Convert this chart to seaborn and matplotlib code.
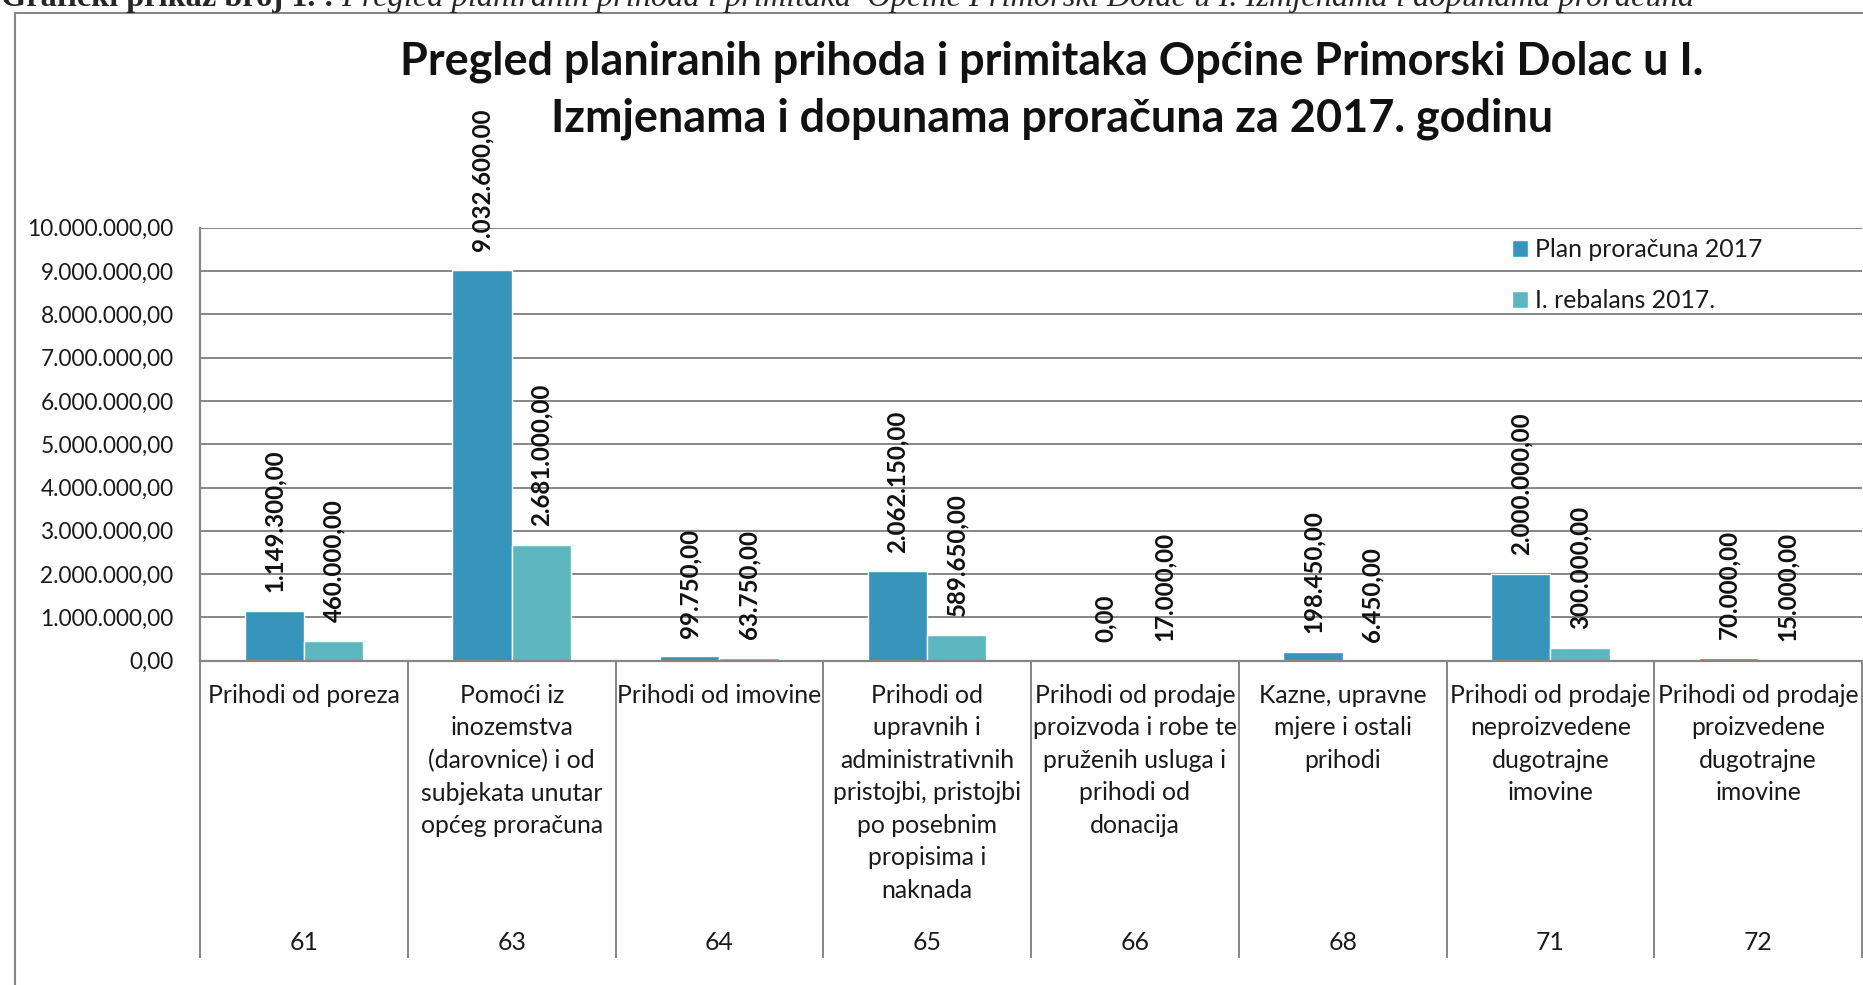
import matplotlib
matplotlib.use("Agg")
import matplotlib.pyplot as plt
import matplotlib.ticker as mticker
import seaborn as sns
import pandas as pd
import numpy as np

# ---------------- data ----------------
codes = ["61", "63", "64", "65", "66", "68", "71", "72"]
names = [
    "Prihodi od poreza",
    "Pomoći iz\ninozemstva\n(darovnice) i od\nsubjekata unutar\nopćeg proračuna",
    "Prihodi od imovine",
    "Prihodi od\nupravnih i\nadministrativnih\npristojbi, pristojbi\npo posebnim\npropisima i\nnaknada",
    "Prihodi od prodaje\nproizvoda i robe te\npruženih usluga i\nprihodi od\ndonacija",
    "Kazne, upravne\nmjere i ostali\nprihodi",
    "Prihodi od prodaje\nneproizvedene\ndugotrajne\nimovine",
    "Prihodi od prodaje\nproizvedene\ndugotrajne\nimovine",
]
plan = [1149300, 9032600, 99750, 2062150, 0, 198450, 2000000, 70000]
rebalans = [460000, 2681000, 63750, 589650, 17000, 6450, 300000, 15000]
series = ["Plan proračuna 2017", "I. rebalans 2017."]
yticks = [0, 1000000, 2000000, 3000000, 4000000, 5000000,
          6000000, 7000000, 8000000, 9000000, 10000000]
title_lines = ["Pregled planiranih prihoda i primitaka Općine Primorski Dolac u I.",
               "Izmjenama i dopunama proračuna za 2017. godinu"]
caption_bold = "Grafički prikaz broj 1. :"
caption_italic = (" Pregled planiranih prihoda i primitaka  Općine Primorski Dolac "
                  "u I. Izmjenama i dopunama proračuna")

colors = ["#3794BB", "#5BB6BF"]
grid_col = "#868686"
FS = 17.8


def hr(v):
    s = f"{v:,.2f}"
    return s.replace(",", "X").replace(".", ",").replace("X", ".")


df = pd.DataFrame({
    "code": codes * 2,
    "series": [series[0]] * len(codes) + [series[1]] * len(codes),
    "value": plan + rebalans,
})

# ---------------- figure ----------------
sns.set_theme(style="white")
plt.rcParams["font.family"] = ["Lato", "DejaVu Sans"]

W, H = 1863, 985
fig = plt.figure(figsize=(W / 100, H / 100), dpi=100)
fig.patch.set_facecolor("white")

ax_left, ax_right = 200, 1862
ax_top, ax_bot = 227.7, 660.7
ax = fig.add_axes([ax_left / W, 1 - ax_bot / H,
                   (ax_right - ax_left) / W, (ax_bot - ax_top) / H])

sns.barplot(data=df, x="code", y="value", hue="series", order=codes,
            hue_order=series, palette=colors, saturation=1, width=0.57,
            dodge=True, ax=ax, legend=True, errorbar=None)

ax.set_xlim(-0.5, len(codes) - 0.5)
ax.set_ylim(0, 10000000)
ax.set_yticks(yticks)
ax.yaxis.set_major_formatter(mticker.FuncFormatter(lambda v, p: hr(v)))
ax.tick_params(axis="y", length=0, pad=19, labelsize=16.3, labelcolor="#1a1a1a")
ax.set_xticks(range(len(codes)))
ax.set_xticklabels(names, fontsize=FS, linespacing=1.5, color="#1a1a1a")
ax.tick_params(axis="x", length=0, pad=16.5)
ax.set_xlabel("")
ax.set_ylabel("")

ax.yaxis.grid(True, color=grid_col, linewidth=1.4)
ax.set_axisbelow(True)
for s in ["top", "right"]:
    ax.spines[s].set_visible(False)
for s in ["left", "bottom"]:
    ax.spines[s].set_color(grid_col)
    ax.spines[s].set_linewidth(1.6)

# value labels
vals = [plan, rebalans]
for cont, v in zip(ax.containers, vals):
    ax.bar_label(cont, labels=[hr(x) for x in v], padding=13.5, rotation=90,
                 fontsize=17.3, fontweight="bold", color="#111111")

# category separators and code row
xt = ax.get_xaxis_transform()
sep_bottom = -(958 - ax_bot) / (ax_bot - ax_top)
ax.vlines(np.arange(-0.5, len(codes)), sep_bottom, 0, transform=xt,
          colors=grid_col, linewidth=1.4, clip_on=False)
code_y = -(943 - ax_bot) / (ax_bot - ax_top)
for i, c in enumerate(codes):
    ax.text(i, code_y, c, transform=xt, ha="center", va="center",
            fontsize=FS, color="#1a1a1a")

# legend
leg = ax.legend(loc="upper left", bbox_to_anchor=(1512 / W, 1 - 238 / H),
                bbox_transform=fig.transFigure, frameon=False, fontsize=FS,
                handlelength=0.65, handleheight=0.65, handletextpad=0.3,
                labelspacing=1.15, borderpad=0, borderaxespad=0)
for t in leg.get_texts():
    t.set_color("#1a1a1a")

# title (two lines)
for ty, line in zip([62, 119], title_lines):
    fig.text(1052 / W, 1 - ty / H, line, ha="center", va="center",
             fontsize=32.4, fontweight="bold", color="#111111")

# outer chart frame
fig.add_artist(plt.Rectangle((15 / W, -0.2), 2.0, (1 - 13 / H) + 0.2,
                             transform=fig.transFigure, fill=False,
                             edgecolor=grid_col, linewidth=1.5))

# caption cut at the top of the page
t1 = fig.text(1 / W, 1 - 6 / H, caption_bold, ha="left", va="baseline",
              fontsize=23.3, fontweight="bold", family="Liberation Serif")
fig.canvas.draw()
bb = t1.get_window_extent()
fig.text(bb.x1 / W, 1 - 6 / H, caption_italic, ha="left", va="baseline",
         fontsize=23.3, fontstyle="italic", family="Liberation Serif")

fig.savefig("out.png", dpi=100, facecolor="white")
